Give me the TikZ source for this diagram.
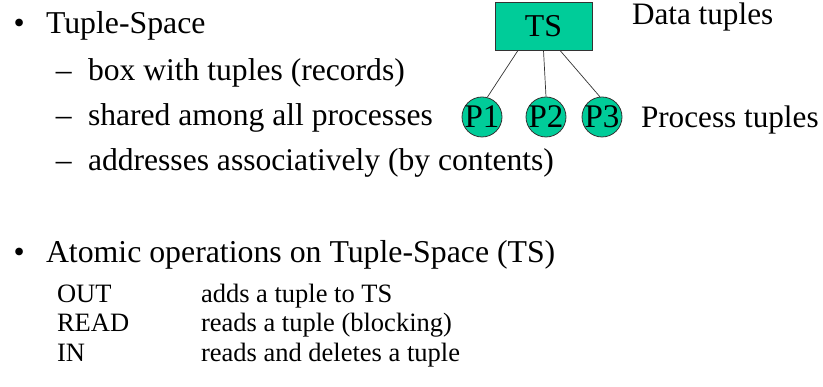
\documentclass[tikz,border=0pt]{standalone}
\usepackage{fontspec}
\setmainfont{Liberation Serif}
\definecolor{tsgreen}{RGB}{0,204,153}
\tikzset{
  txt/.style={anchor=base west, inner sep=0pt, outer sep=0pt},
  bigtxt/.style={txt, font=\fontsize{31.8}{37}\selectfont},
  sidetxt/.style={txt, font=\fontsize{31.2}{37}\selectfont},
  subtxt/.style={txt, font=\fontsize{31.6}{37}\selectfont},
  optxt/.style={txt, font=\fontsize{26.5}{32}\selectfont},
  tsbox/.style={draw=black!80, line width=0.8pt, fill=tsgreen, inner sep=0pt,
    minimum width=97pt, minimum height=48pt, font=\fontsize{31.8}{37}\selectfont},
  proc/.style={circle, draw=black!80, line width=0.8pt, fill=tsgreen, inner sep=-0.8pt,
    minimum size=40pt, font=\fontsize{33}{37}\selectfont},
  link/.style={draw=black!80, line width=0.7pt}
}
\begin{document}
\begin{tikzpicture}[x=1pt, y=-1pt]
\useasboundingbox (0,0) rectangle (823,387);

% first bullet and its sub-items
\node[bigtxt] (b1) at (13.5,34) {\textbullet};
\node[bigtxt] (t1) at (46,34) {Tuple-Space};
\node[subtxt] (d1) at (56,81) {–};
\node[subtxt] (s1) at (88,81) {box with tuples (records)};
\node[subtxt] (d2) at (56,126) {–};
\node[subtxt] (s2) at (88,126) {shared among all processes};
\node[subtxt] (d3) at (56,171) {–};
\node[subtxt] (s3) at (88,171) {addresses associatively (by contents)};

% tuple space with its processes
\node[tsbox] (TS) at (543.5,26) {TS};
\node[proc] (P1) at (482,117) {P1};
\node[proc] (P2) at (546,117) {P2};
\node[proc] (P3) at (602,117) {P3};
\draw[link] ([xshift=-25.5pt]TS.south) -- (P1.75);
\draw[link] (TS.south) -- (P2.north);
\draw[link] ([xshift=16.5pt]TS.south) -- (P3.96);
\node[sidetxt] (dt) at (632,25) {Data tuples};
\node[sidetxt] (pt) at (641,128) {Process tuples};

% second bullet: the operations
\node[bigtxt] (b2) at (13.5,263) {\textbullet};
\node[bigtxt] (t2) at (46,263) {Atomic operations on Tuple-Space (TS)};
\node[optxt] (o1) at (57,303) {OUT};
\node[optxt] (e1) at (201,303) {adds a tuple to TS};
\node[optxt] (o2) at (57,332) {READ};
\node[optxt] (e2) at (201,332) {reads a tuple (blocking)};
\node[optxt] (o3) at (57,362) {IN};
\node[optxt] (e3) at (201,362) {reads and deletes a tuple};
\end{tikzpicture}
\end{document}
